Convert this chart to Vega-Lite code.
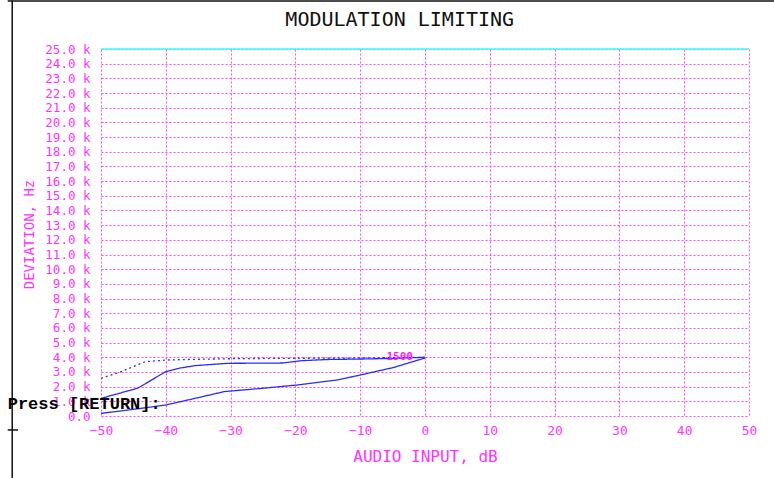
{
  "$schema": "https://vega.github.io/schema/vega-lite/v6.json",
  "width": 648,
  "height": 367,
  "autosize": {"type": "none"},
  "padding": {"left": 101, "top": 49, "right": 25, "bottom": 62},
  "background": "white",
  "config": {"view": {"stroke": null}},
  "datasets": {
    "curves": [
      {"series": "upper", "x": -50, "y": 2570},
      {"series": "upper", "x": -47, "y": 3000},
      {"series": "upper", "x": -43.2, "y": 3700},
      {"series": "upper", "x": -40, "y": 3810},
      {"series": "upper", "x": -35.5, "y": 3860},
      {"series": "upper", "x": -30.4, "y": 3900},
      {"series": "upper", "x": -25, "y": 3920},
      {"series": "upper", "x": -20, "y": 3930},
      {"series": "upper", "x": -10, "y": 3950},
      {"series": "upper", "x": 0, "y": 4000},
      {"series": "middle", "x": -50, "y": 1200},
      {"series": "middle", "x": -44.3, "y": 1900},
      {"series": "middle", "x": -40.1, "y": 3000},
      {"series": "middle", "x": -38, "y": 3250},
      {"series": "middle", "x": -35.5, "y": 3430},
      {"series": "middle", "x": -30.4, "y": 3590},
      {"series": "middle", "x": -25, "y": 3600},
      {"series": "middle", "x": -22, "y": 3610},
      {"series": "middle", "x": -19, "y": 3770},
      {"series": "middle", "x": -15, "y": 3850},
      {"series": "middle", "x": -10, "y": 3880},
      {"series": "middle", "x": -5, "y": 3920},
      {"series": "middle", "x": 0, "y": 4000},
      {"series": "lower", "x": -50, "y": 180},
      {"series": "lower", "x": -45, "y": 450},
      {"series": "lower", "x": -40, "y": 750},
      {"series": "lower", "x": -35.5, "y": 1200},
      {"series": "lower", "x": -31, "y": 1660},
      {"series": "lower", "x": -25, "y": 1890},
      {"series": "lower", "x": -19.8, "y": 2110},
      {"series": "lower", "x": -13.6, "y": 2450},
      {"series": "lower", "x": -10, "y": 2790},
      {"series": "lower", "x": -4.9, "y": 3300},
      {"series": "lower", "x": 0, "y": 3950}
    ],
    "frame": [
      {"x": -63.7, "x2": -63.7, "y": -4300, "y2": 28300},
      {"x": -64.4, "x2": 54, "y": 28270, "y2": 28270},
      {"x": -64.4, "x2": -62.8, "y": -950, "y2": -950}
    ],
    "texts": [
      {"x": -64.4, "y": 820, "label": "Press [RETURN]:"}
    ]
  },
  "encoding": {
    "x": {
      "field": "x", "type": "quantitative",
      "scale": {"domain": [-50, 50], "nice": false, "zero": false},
      "axis": {
        "values": [-50, -40, -30, -20, -10, 0, 10, 20, 30, 40, 50],
        "title": "AUDIO INPUT, dB",
        "titleFont": "DejaVu Sans Mono", "titleFontSize": 16, "titleFontWeight": "normal",
        "titleColor": "#ff33ff", "titleY": 48, "titleBaseline": "bottom",
        "labelFont": "DejaVu Sans Mono", "labelFontSize": 13, "labelColor": "#ff33ff",
        "labelPadding": 8, "labelFlush": false, "labelOverlap": false, "tickSize": 0, "domain": false,
        "grid": true, "gridColor": "#ff33ff", "gridDash": [2, 2], "gridWidth": 1, "gridOpacity": 0.9
      }
    },
    "y": {
      "field": "y", "type": "quantitative",
      "scale": {"domain": [0, 25000], "nice": false, "zero": false},
      "axis": {
        "values": [0,1000,2000,3000,4000,5000,6000,7000,8000,9000,10000,11000,12000,13000,14000,15000,16000,17000,18000,19000,20000,21000,22000,23000,24000,25000],
        "labelExpr": "datum.value == 0 ? '0.0' : format(datum.value / 1000, '.1f') + ' k'",
        "title": "DEVIATION, Hz",
        "titleFont": "DejaVu Sans Mono", "titleFontSize": 14, "titleFontWeight": "normal",
        "titleColor": "#ff33ff", "titleX": -72, "titleY": 185, "titleAngle": -90,
        "titleAlign": "center", "titleBaseline": "middle",
        "labelFont": "DejaVu Sans Mono", "labelFontSize": 12.5, "labelColor": "#ff33ff",
        "labelPadding": 11, "labelOverlap": false, "labelFlush": false, "tickSize": 0, "domain": false,
        "grid": true, "gridColor": "#ff33ff", "gridDash": [2, 2], "gridWidth": 1, "gridOpacity": 0.9
      }
    }
  },
  "layer": [
    {
      "data": {"name": "curves"},
      "mark": {"type": "line", "clip": false, "strokeWidth": 1.3, "color": "#2a2aff"},
      "encoding": {
        "detail": {"field": "series"},
        "strokeDash": {
          "field": "series", "type": "nominal",
          "scale": {"domain": ["upper", "middle", "lower"], "range": [[2, 3], [1, 0], [1, 0]]},
          "legend": null
        }
      }
    },
    {
      "data": {"values": [{"x": -50, "x2": 50, "y": 25000}]},
      "mark": {"type": "rule", "color": "#33ffff", "strokeWidth": 1.5, "clip": false},
      "encoding": {
        "x2": {"field": "x2"}
      }
    },
    {
      "data": {"values": [{"x": -3.9, "y": 4050, "label": "1500"}]},
      "mark": {"type": "text", "font": "DejaVu Sans Mono", "fontSize": 11, "fontWeight": "bold", "color": "#ff22ff", "align": "center", "baseline": "middle", "clip": false},
      "encoding": {
        "text": {"field": "label"}
      }
    },
    {
      "data": {"values": [{"x": -3.9, "y": 26950, "label": "MODULATION LIMITING"}]},
      "mark": {"type": "text", "font": "DejaVu Sans Mono", "fontSize": 20, "fontWeight": "normal", "color": "#111111", "align": "center", "baseline": "middle", "clip": false},
      "encoding": {
        "text": {"field": "label"}
      }
    },
    {
      "data": {"name": "frame"},
      "mark": {"type": "rule", "color": "#111111", "strokeWidth": 1.5, "clip": false},
      "encoding": {
        "x2": {"field": "x2"},
        "y2": {"field": "y2"}
      }
    },
    {
      "data": {"name": "texts"},
      "mark": {"type": "text", "font": "Liberation Mono", "fontSize": 17, "fontWeight": "bold", "color": "#000000", "align": "left", "baseline": "middle", "clip": false},
      "encoding": {
        "text": {"field": "label"}
      }
    }
  ]
}
